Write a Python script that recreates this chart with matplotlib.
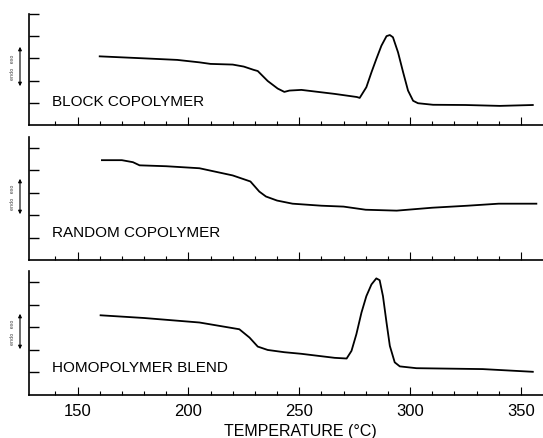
import numpy as np
import matplotlib
matplotlib.use('Agg')
import matplotlib.pyplot as plt

# DSC traces, values (signal in tick units)
t_block = [160, 180, 195, 205, 210, 220, 225, 229.5, 231.3, 235.8, 240.3, 243.3, 245.6,
           251, 266, 276, 277.3, 280.3, 282.6, 284.8, 287.1, 289.4, 290.9, 292.3, 294.6,
           296.9, 299.1, 301.4, 303.6, 310.4, 325, 340.5, 355.4]
s_block = [3.09, 3.0, 2.93, 2.82, 2.75, 2.72, 2.63, 2.48, 2.43, 1.98, 1.64, 1.49, 1.55,
           1.58, 1.40, 1.26, 1.22, 1.70, 2.37, 2.97, 3.57, 4.00, 4.05, 3.95, 3.27,
           2.37, 1.55, 1.09, 0.98, 0.91, 0.90, 0.86, 0.90]

t_random = [161, 170, 175, 178, 190, 205, 220, 228, 232, 235, 240, 247, 260, 270,
            280, 294, 310, 326, 340, 357]
s_random = [4.46, 4.46, 4.37, 4.23, 4.19, 4.10, 3.78, 3.51, 3.06, 2.84, 2.66, 2.52,
            2.43, 2.39, 2.25, 2.21, 2.34, 2.43, 2.52, 2.52]

t_blend = [160.4, 180, 205, 223, 227.6, 231.3, 235.8, 243.3, 250.9, 266, 271.4, 273.6,
           275.8, 278.1, 280.3, 282.6, 284.8, 286.3, 287.8, 289.4, 290.9, 293.1, 295.4,
           302.9, 332.8, 355.4]
s_blend = [3.54, 3.42, 3.22, 2.92, 2.55, 2.15, 2.00, 1.90, 1.83, 1.65, 1.62, 1.96,
           2.70, 3.66, 4.39, 4.91, 5.18, 5.10, 4.39, 3.22, 2.18, 1.45, 1.27,
           1.19, 1.15, 1.03]

names = ['BLOCK COPOLYMER', 'RANDOM COPOLYMER', 'HOMOPOLYMER BLEND']
name_y = [0.9, 1.08, 1.06]
xticks = [150, 200, 250, 300, 350]

fam = ['Liberation Sans', 'DejaVu Sans']

fig = plt.figure(figsize=(5.43, 4.39), dpi=100)
# panel boxes in figure fraction: left, bottom, width, height
boxes = [(0.053, 0.713, 0.947, 0.253),
         (0.053, 0.405, 0.947, 0.281),
         (0.053, 0.098, 0.947, 0.282)]
ylims = [5.0, 5.5, 5.5]
series = [(t_block, s_block), (t_random, s_random), (t_blend, s_blend)]
arrows = [(45, 90), (177, 218), (312, 353)]  # pixel rows of the endo/exo arrow

for i, box in enumerate(boxes):
    ax = fig.add_axes(box)
    t, s = series[i]
    ax.plot(t, s, color='black', lw=1.3)
    ax.set_xlim(128, 360)
    ax.set_ylim(0, ylims[i])
    for sp in ['top', 'right']:
        ax.spines[sp].set_visible(False)
    ax.spines['left'].set_linewidth(1.2)
    ax.spines['bottom'].set_linewidth(1.2)
    ax.set_yticks([1, 2, 3, 4, 5])
    ax.tick_params(axis='y', direction='in', length=7, width=1.0, labelleft=False)
    ax.set_xticks(xticks)
    ax.set_xticks(np.arange(140, 360, 10), minor=True)
    ax.tick_params(axis='x', which='major', direction='in', length=6, width=0.8)
    ax.tick_params(axis='x', which='minor', direction='in', length=3, width=0.8)
    if i < 2:
        ax.tick_params(axis='x', labelbottom=False)
    else:
        ax.set_xticklabels([str(v) for v in xticks], family=fam, fontsize=12)
        ax.tick_params(axis='x', pad=6)
    ax.text(138.5, name_y[i], names[i], family=fam, fontsize=11, ha='left', va='baseline')

    # endo / exo marker left of the panel
    y0, y1 = arrows[i]
    fy0 = 1 - y0 / 439
    fy1 = 1 - y1 / 439
    fig.add_artist(matplotlib.patches.FancyArrowPatch(
        (20 / 543, fy1), (20 / 543, fy0), transform=fig.transFigure,
        arrowstyle='<|-|>', mutation_scale=5, lw=0.8, color='black'))
    fig.text(12 / 543, (fy0 + fy1) / 2, 'endo   exo', rotation=90, fontsize=3.5,
             ha='center', va='center', color='#444444')

fig.text(300 / 543, 1 - 436 / 439, 'TEMPERATURE (°C)', family=fam, fontsize=11.5,
         ha='center', va='baseline')

fig.savefig('out.png', dpi=100)
